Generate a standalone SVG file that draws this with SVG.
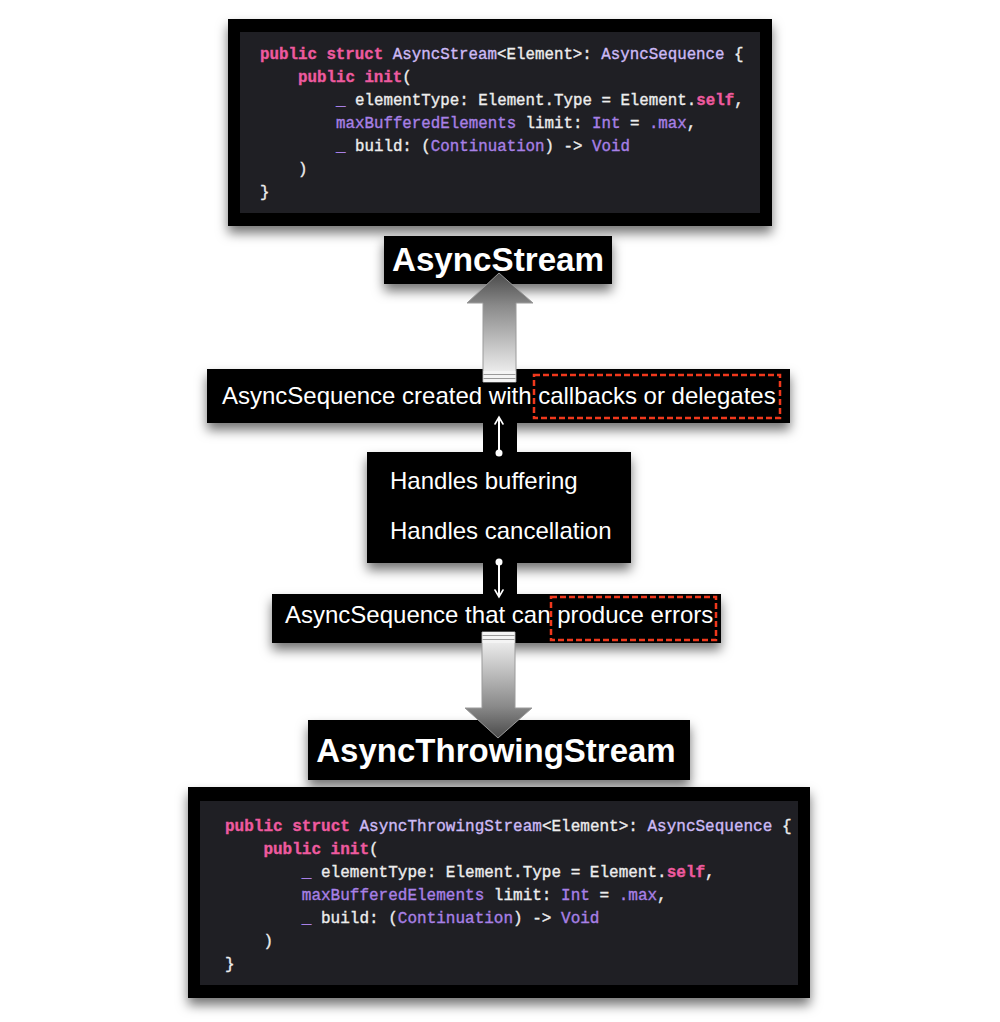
<svg xmlns="http://www.w3.org/2000/svg" width="1000" height="1022" viewBox="0 0 1000 1022">
<defs>
<filter id="sh" x="-10%" y="-20%" width="120%" height="160%">
<feDropShadow dx="0" dy="7" stdDeviation="6" flood-color="#000" flood-opacity="0.55"/>
</filter>
<linearGradient id="gUp" x1="0" y1="273" x2="0" y2="382" gradientUnits="userSpaceOnUse">
<stop offset="0" stop-color="#4a4a4a"/>
<stop offset="0.3" stop-color="#8a8a8a"/>
<stop offset="1" stop-color="#fbfbfb"/>
</linearGradient>
<linearGradient id="gDown" x1="0" y1="632" x2="0" y2="738" gradientUnits="userSpaceOnUse">
<stop offset="0" stop-color="#fbfbfb"/>
<stop offset="0.7" stop-color="#8a8a8a"/>
<stop offset="1" stop-color="#4a4a4a"/>
</linearGradient>
<marker id="ah" viewBox="0 0 10 10" refX="8" refY="5" markerWidth="5" markerHeight="5" orient="auto-start-reverse" markerUnits="strokeWidth">
<path d="M1,1 L8,5 L1,9" fill="none" stroke="#fff" stroke-width="1.6" stroke-linecap="round"/>
</marker>
<style>
.blk{fill:#000;}
.panel{fill:#1f1f24;}
.code{font-family:"Liberation Mono",monospace;fill:#ededed;stroke:#ededed;stroke-width:0.35;white-space:pre;}
.kw{fill:#ee5a9f;stroke:#ee5a9f;font-weight:bold;}
.ty{fill:#cdbaf6;stroke:#cdbaf6;}
.pu{fill:#a880e6;stroke:#a880e6;}
.lbl{font-family:"Liberation Sans",Arial,sans-serif;font-size:24px;fill:#fff;}
.ttl{font-family:"Liberation Sans",Arial,sans-serif;font-weight:bold;fill:#fff;}
.dash{fill:none;stroke:#f0381c;stroke-width:2.5;stroke-dasharray:6 3;}
.bigarrow{stroke:#9a9a9a;stroke-width:1;}
.wline{stroke:#fff;stroke-width:2;fill:none;}
</style>
</defs>

<g id="code-asyncstream">
<rect class="blk" x="228" y="19" width="544" height="207" filter="url(#sh)"/>
<rect class="panel" x="240" y="32" width="520" height="181"/>
<g class="code" font-size="15.8">
<text x="260" y="59"><tspan class="kw">public</tspan> <tspan class="kw">struct</tspan> <tspan class="ty">AsyncStream</tspan>&lt;Element&gt;: <tspan class="ty">AsyncSequence</tspan> {</text>
<text x="298" y="82"><tspan class="kw">public</tspan> <tspan class="kw">init</tspan>(</text>
<text x="336" y="105"><tspan class="pu">_</tspan> elementType: Element.Type = Element.<tspan class="kw">self</tspan>,</text>
<text x="336" y="128"><tspan class="pu">maxBufferedElements</tspan> limit: <tspan class="pu">Int</tspan> = <tspan class="pu">.max</tspan>,</text>
<text x="336" y="151"><tspan class="pu">_</tspan> build: (<tspan class="pu">Continuation</tspan>) -&gt; <tspan class="pu">Void</tspan></text>
<text x="298" y="174">)</text>
<text x="260" y="197">}</text>
</g>
</g>

<g id="title-asyncstream">
<rect class="blk" x="384" y="236" width="228" height="48" filter="url(#sh)"/>
<text class="ttl" x="498" y="271" font-size="33.2" text-anchor="middle">AsyncStream</text>
</g>

<g id="box-callbacks">
<rect class="blk" x="207" y="369" width="583" height="54" filter="url(#sh)"/>
<text class="lbl" x="222" y="404">AsyncSequence created with callbacks or delegates</text>
<rect class="dash" x="534" y="375" width="246" height="43"/>
</g>

<g id="box-handles">
<rect class="blk" x="367" y="452" width="264" height="111" filter="url(#sh)"/>
<text class="lbl" x="390" y="489">Handles buffering</text>
<text class="lbl" x="390" y="539">Handles cancellation</text>
</g>

<g id="box-errors">
<rect class="blk" x="272" y="594" width="449" height="49" filter="url(#sh)"/>
<text class="lbl" x="285" y="623">AsyncSequence that can produce errors</text>
<rect class="dash" x="551" y="597" width="165" height="43"/>
</g>

<g id="title-throwing">
<rect class="blk" x="308" y="720" width="382" height="60" filter="url(#sh)"/>
<text class="ttl" x="496" y="762" font-size="33" text-anchor="middle">AsyncThrowingStream</text>
</g>

<g id="code-throwing">
<rect class="blk" x="188" y="787" width="622" height="211" filter="url(#sh)"/>
<rect class="panel" x="200" y="801" width="598" height="184"/>
<g class="code" font-size="16">
<text x="225" y="831"><tspan class="kw">public</tspan> <tspan class="kw">struct</tspan> <tspan class="ty">AsyncThrowingStream</tspan>&lt;Element&gt;: <tspan class="ty">AsyncSequence</tspan> {</text>
<text x="263.4" y="854"><tspan class="kw">public</tspan> <tspan class="kw">init</tspan>(</text>
<text x="301.8" y="877"><tspan class="pu">_</tspan> elementType: Element.Type = Element.<tspan class="kw">self</tspan>,</text>
<text x="301.8" y="900"><tspan class="pu">maxBufferedElements</tspan> limit: <tspan class="pu">Int</tspan> = <tspan class="pu">.max</tspan>,</text>
<text x="301.8" y="923"><tspan class="pu">_</tspan> build: (<tspan class="pu">Continuation</tspan>) -&gt; <tspan class="pu">Void</tspan></text>
<text x="263.4" y="946">)</text>
<text x="225" y="969">}</text>
</g>
</g>

<g id="connectors">
<rect class="blk" x="483" y="420" width="34" height="34"/>
<rect class="blk" x="483" y="561" width="34" height="35"/>
<path class="bigarrow" d="M483,382 L483,303 L467,303 L499,273 L533,303 L516,303 L516,382 Z" fill="url(#gUp)"/>
<rect x="483.5" y="371" width="32" height="11" fill="#f4f4f4"/>
<line x1="483.5" y1="374.5" x2="515.5" y2="374.5" stroke="#9a9a9a" stroke-width="1"/>
<line x1="483.5" y1="378.5" x2="515.5" y2="378.5" stroke="#9a9a9a" stroke-width="1"/>
<path class="bigarrow" d="M482,632 L482,708 L465,708 L498,738 L532,708 L515,708 L515,632 Z" fill="url(#gDown)"/>
<rect x="482.5" y="632" width="32" height="11" fill="#f4f4f4"/>
<line x1="482.5" y1="635.5" x2="514.5" y2="635.5" stroke="#9a9a9a" stroke-width="1"/>
<line x1="482.5" y1="639.5" x2="514.5" y2="639.5" stroke="#9a9a9a" stroke-width="1"/>
<circle cx="499" cy="453" r="3.5" fill="#fff"/>
<line class="wline" x1="499" y1="453" x2="499" y2="417" marker-end="url(#ah)"/>
<circle cx="499" cy="562" r="3.5" fill="#fff"/>
<line class="wline" x1="499" y1="562" x2="499" y2="597" marker-end="url(#ah)"/>
</g>
</svg>
